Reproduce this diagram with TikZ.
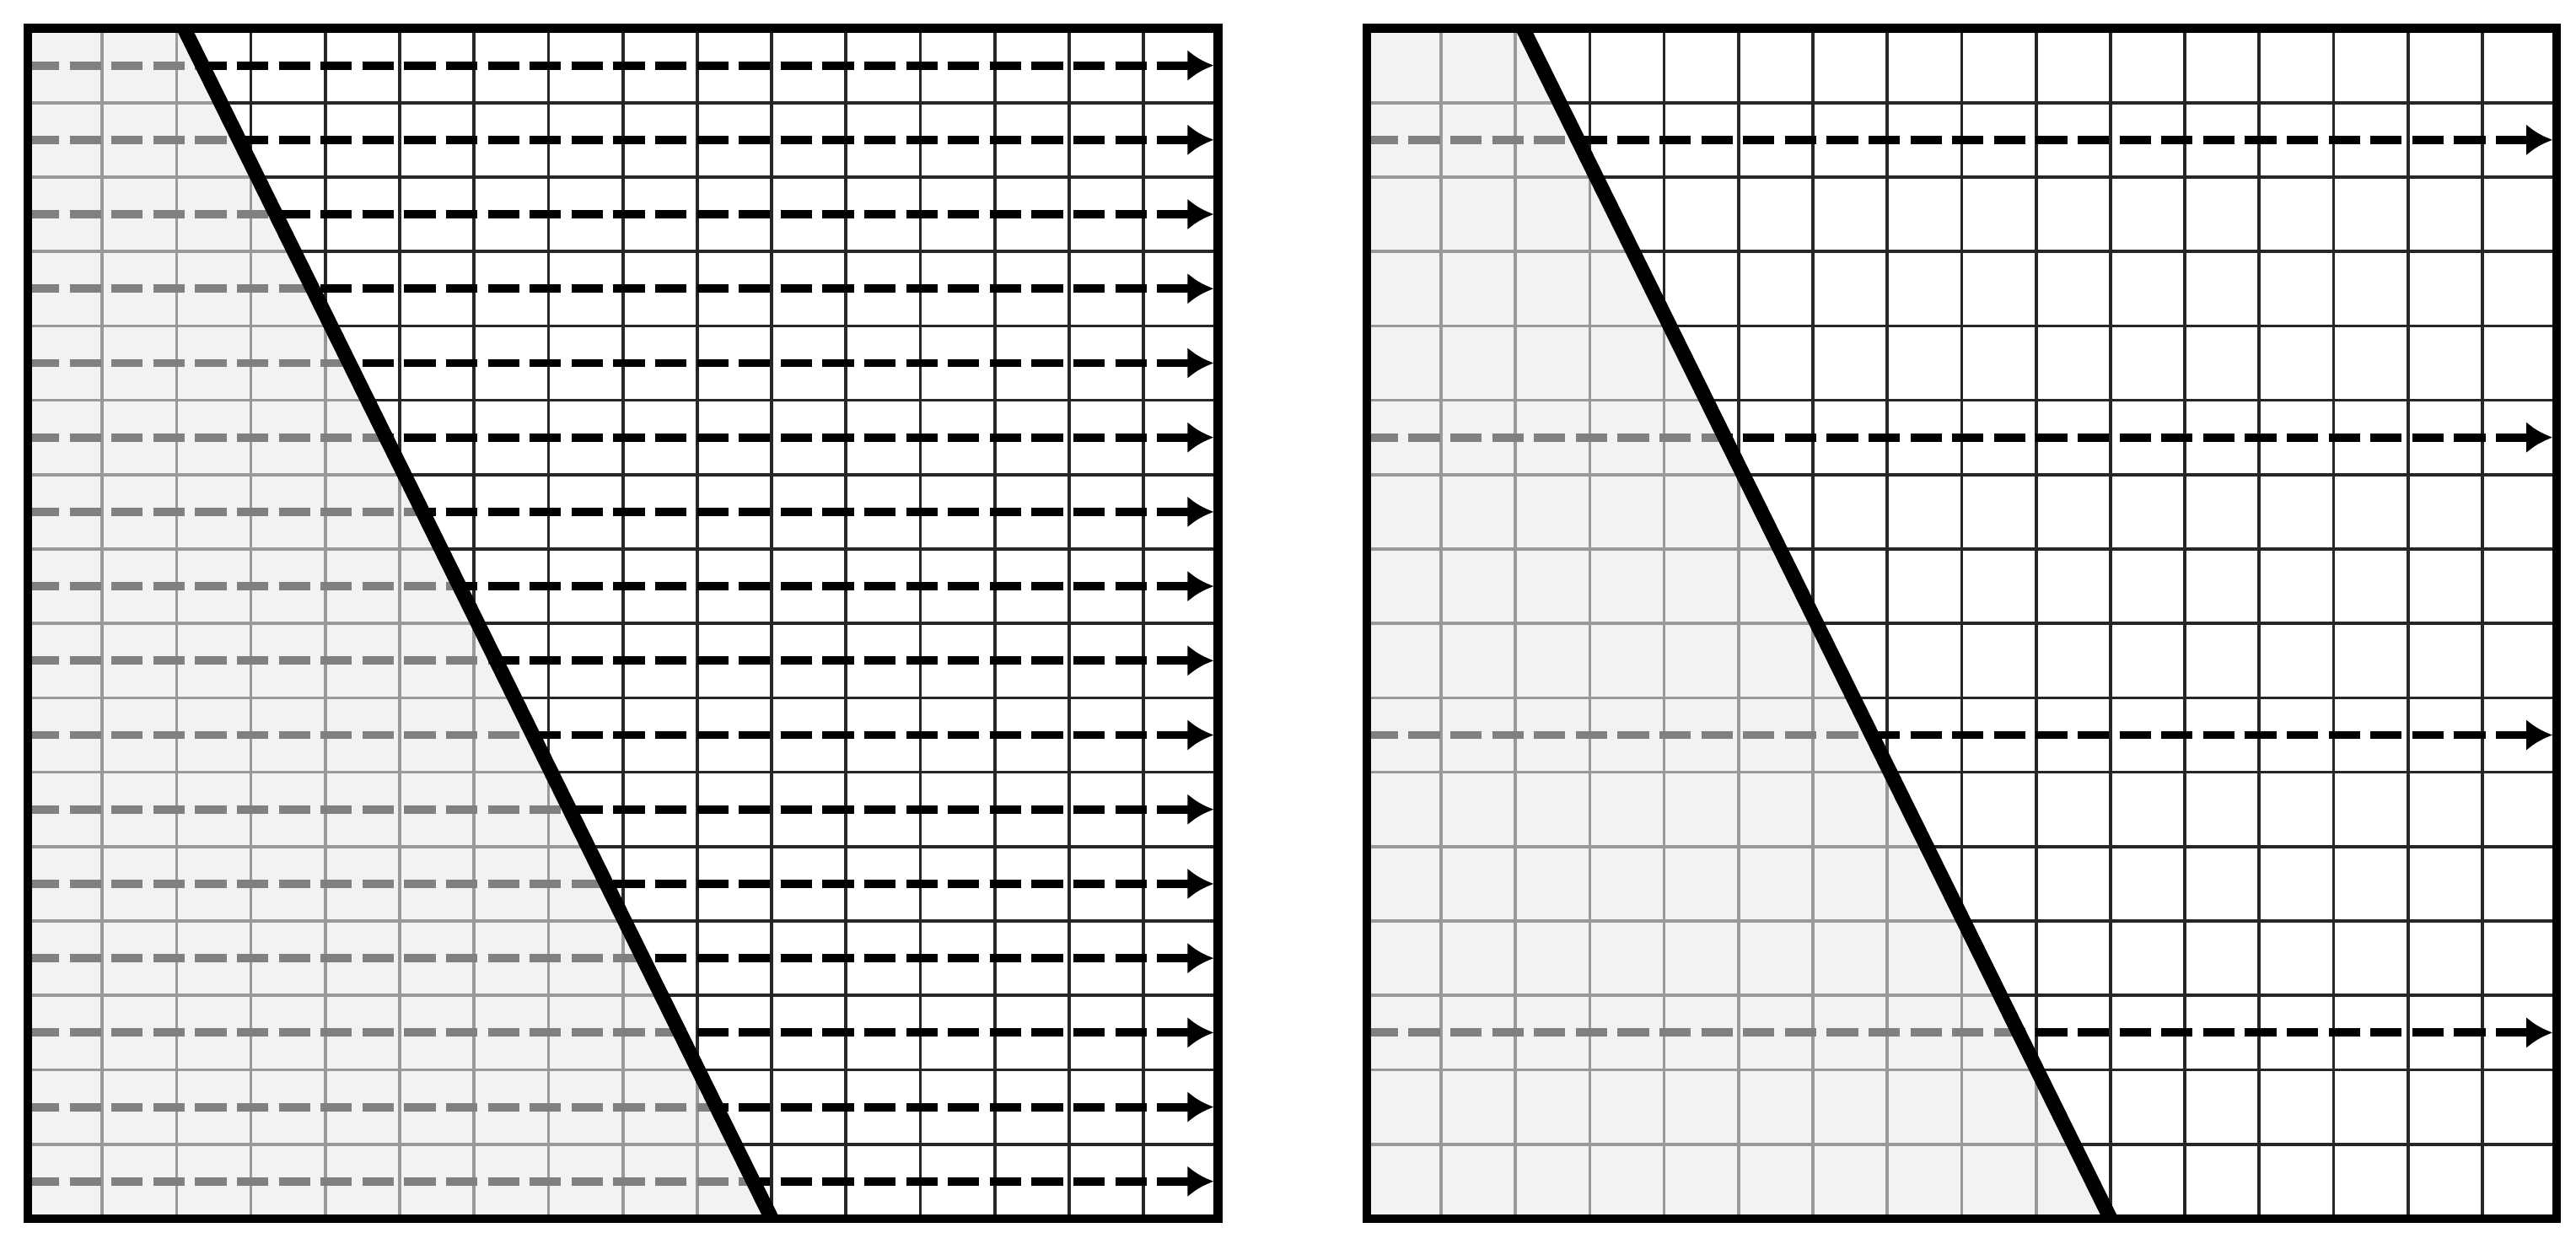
\documentclass[tikz,border=0pt]{standalone}
\usetikzlibrary{arrows.meta}

% one panel: grid, shaded part left of the cut, dashed rays
\newcommand{\raypanel}[2]{%
    \begin{scope}[shift = {(#1,0)}]
        \coordinate (cuttop) at (2.1,16);
        \coordinate (cutbot) at (10,0);
        \fill[shade] (0,0) -- (0,16) -- (cuttop) -- (cutbot) -- cycle;
        \foreach \i in {1,...,15} {
            \draw[gridline] (\i,0) -- (\i,16);
            \draw[gridline] (0,\i) -- (16,\i);
        }
        \foreach \y in {#2} \draw[ray] (0,\y) -- (16,\y);
        % grey part of grid and rays, left of the cut
        \begin{scope}
            \clip (0,0) -- (0,16) -- (cuttop) -- (cutbot) -- cycle;
            \foreach \i in {1,...,15} {
                \draw[gridgray] (\i,0) -- (\i,16);
                \draw[gridgray] (0,\i) -- (16,\i);
            }
            \foreach \y in {#2} \draw[raygray] (0,\y) -- (16,\y);
        \end{scope}
        \draw[cut] (cuttop) -- (cutbot);
        \draw[frame] (0,0) rectangle (16,16);
    \end{scope}%
}

\begin{document}
\begin{tikzpicture}[x = 5mm, y = 5mm, % one grid cell
                line cap = butt
            ]

            \tikzstyle{shade}=[fill = black!5]
            \tikzstyle{frame}=[draw = black, line width = 1.7pt]
            \tikzstyle{cut}=[draw = black, line width = 2.8pt]
            \tikzstyle{gridline}=[draw = black!85, line width = 0.6pt]
            \tikzstyle{gridgray}=[draw = black!40, line width = 0.6pt]
            \tikzstyle{ray}=[draw = black, line width = 1.6pt,
            dash pattern = on 6pt off 2pt, shorten > = 0.8pt,
            -{Latex[length = 5pt, width = 6pt]}]
            \tikzstyle{raygray}=[draw = black!50, line width = 1.6pt,
            dash pattern = on 6pt off 2pt]

            \useasboundingbox (-0.374,-0.34) rectangle (34.26,16.38);

            \raypanel{0}{0.5,1.5,...,15.5}
            \raypanel{18}{2.5,6.5,10.5,14.5}
\end{tikzpicture}
\end{document}
